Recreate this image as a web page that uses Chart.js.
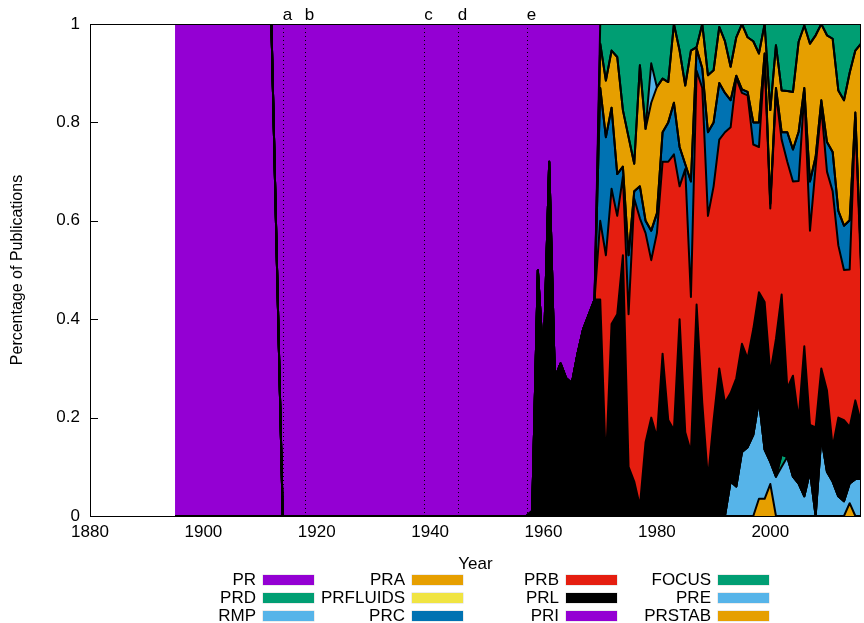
<!DOCTYPE html>
<html lang="en">
<head>
<meta charset="UTF-8">
<title>Percentage of Publications by Journal</title>
<script src="https://cdn.jsdelivr.net/npm/chart.js@4.4.0/dist/chart.umd.min.js"></script>
<style>
    body { margin: 0; background: #fff; }
    #wrap { position: relative; width: 864px; height: 623px; font-family: "Liberation Sans", Arial, sans-serif; }
    #chart { display: block; }
    .key-label { position: absolute; width: 120px; text-align: right; font-size: 17px; line-height: 18px; color: #000; }
    .key-box { position: absolute; width: 51px; height: 10px; box-shadow: 0 0 0 0.5px rgba(0,0,0,0.15); }
</style>
</head>
<body>
<div id="wrap">
    <canvas id="chart" width="864" height="623"></canvas>
    <div id="key"></div>
</div>
<script>
    // axis ticks and the marked years
    const xTicks = [1880, 1900, 1920, 1940, 1960, 1980, 2000];
    const yTicks = [0, 0.2, 0.4, 0.6, 0.8, 1];
    const eventYears = [1914, 1918, 1939, 1945, 1957];
    const eventLabels = ['a', 'b', 'c', 'd', 'e'];

    const firstYear = 1895, lastYear = 2016;

    // Share of each journal per year, listed from the given first year on
    const priStart = 1895;
    const priShare = [1, 1, 1, 1, 1, 1, 1, 1, 1, 1, 1, 1, 1, 1, 1, 1, 1, 1, 0.5];

    const prStart = 1913;
    const prShare = [0.5,
        1, 1, 1, 1, 1, 1, 1, 1, 1, 1, 1,
        1, 1, 1, 1, 1, 1, 1, 1, 1, 1, 1,
        1, 1, 1, 1, 1, 1, 1, 1, 1, 1, 1,
        1, 1, 1, 1, 1, 1, 1, 1, 1, 1, 1,
        0.99, 0.50, 0.69, 0.28, 0.72, 0.69, 0.72, 0.73, 0.67, 0.62, 0.59, 0.56];

    const prlStart = 1958;
    const prlShare = [0.01, 0.50, 0.31, 0.72, 0.28, 0.31, 0.28, 0.27, 0.33, 0.38, 0.41, 0.44,
        0.44, 0.105, 0.39, 0.41, 0.53, 0.10, 0.07, 0.02, 0.15, 0.20,
        0.16, 0.33, 0.195, 0.175, 0.40, 0.17, 0.13, 0.43, 0.23, 0.075,
        0.195, 0.30, 0.23, 0.18, 0.22, 0.22, 0.18, 0.215, 0.22, 0.30,
        0.18, 0.28, 0.325, 0.14, 0.205, 0.13, 0.305, 0.095, 0.18, 0.14,
        0.165, 0.07, 0.16, 0.165, 0.115, 0.16, 0.115];

    const prbStart = 1970;
    const prbShare = [0.16, 0.425, 0.275, 0.20, 0.16, 0.31, 0.575, 0.585, 0.425, 0.32,
        0.415, 0.39, 0.525, 0.56, 0.27, 0.535, 0.315, 0.475, 0.64, 0.535,
        0.475, 0.465, 0.55, 0.54, 0.61, 0.51, 0.535, 0.375, 0.295, 0.495,
        0.335, 0.50, 0.315, 0.46, 0.395, 0.485, 0.515, 0.395, 0.53, 0.53,
        0.445, 0.52, 0.35, 0.305, 0.32, 0.575, 0.31];

    const prcStart = 1970;
    const prcShare = [0.27, 0.24, 0.165, 0.085, 0.02, 0.12, 0.015, 0.065, 0.025, 0.06,
        0.04, 0.06, 0.08, 0.105, 0.08, 0.01, 0.235, 0.045, 0.04, 0.17,
        0.13, 0.115, 0.08, 0.055, 0.005, 0.007, 0.007, 0.045, 0.05, 0.01,
        0.01, 0.01, 0.015, 0.06, 0.065, 0.10, 0.01, 0.10, 0.02, 0.015,
        0.06, 0.08, 0.07, 0.09, 0.10, 0.01, 0.02];

    const praStart = 1970;
    const praShare = [0.09, 0.115, 0.116, 0.238, 0.115, 0.24, 0.056, 0.246, 0.187, 0.26,
        0.257, 0.109, 0.082, 0.16, 0.196, 0.16, 0.266, 0.003, 0.09, 0.116,
        0.106, 0.114, 0.105, 0.068, 0.078, 0.133, 0.111, 0.165, 0.14, 0.06,
        0.19, 0.087, 0.085, 0.084, 0.117, 0.183, 0.127, 0.28, 0.247, 0.155,
        0.217, 0.23, 0.245, 0.255, 0.30, 0.126, 0.44];

    const prdStart = 1970;
    const prdShare = [0.04, 0.115, 0.054, 0.067, 0.175, 0.23, 0.284, 0.084, 0.213, 0.08,
        0.128, 0.111, 0.118, 0.0, 0.054, 0.125, 0.054, 0.047, 0.0, 0.104,
        0.094, 0.006, 0.035, 0.087, 0.027, 0.0, 0.027, 0.035, 0.06, 0.0,
        0.175, 0.043, 0.135, 0.136, 0.138, 0.037, 0.003, 0.04, 0.023, 0.0,
        0.023, 0.03, 0.135, 0.155, 0.10, 0.054, 0.04];

    const rmpStart = 1978;
    const rmpShare = [0, 0.08, 0];

    const prfluidsStart = 2016;
    const prfluidsShare = [0];

    const preStart = 1992;
    const preShare = [0, 0.07, 0.06, 0.13, 0.14, 0.165, 0.20, 0.10,
        0.045, 0.08, 0.10, 0.12, 0.08, 0.066, 0.04, 0.09, 0.0, 0.16,
        0.09, 0.07, 0.04, 0.03, 0.04, 0.075, 0.075];

    const focusStart = 2001;
    const focusShare = [0, 0.025, 0];

    const prstabStart = 1997;
    const prstabShare = [0, 0.035, 0.035, 0.065, 0, 0, 0, 0, 0, 0, 0, 0, 0, 0, 0, 0, 0, 0.026, 0, 0];

    // legend order (as plotted) and colours
    const journals = ['PR', 'PRD', 'RMP', 'PRA', 'PRFLUIDS', 'PRC', 'PRB', 'PRL', 'PRI', 'FOCUS', 'PRE', 'PRSTAB'];
    const colours = ['#9400d3', '#009e73', '#56b4e9', '#e69f00', '#f0e442', '#0072b2',
                     '#e51e10', '#000000', '#9400d3', '#009e73', '#56b4e9', '#e69f00'];

    const shares = {
        PR: [prStart, prShare], PRD: [prdStart, prdShare], RMP: [rmpStart, rmpShare],
        PRA: [praStart, praShare], PRFLUIDS: [prfluidsStart, prfluidsShare], PRC: [prcStart, prcShare],
        PRB: [prbStart, prbShare], PRL: [prlStart, prlShare], PRI: [priStart, priShare],
        FOCUS: [focusStart, focusShare], PRE: [preStart, preShare], PRSTAB: [prstabStart, prstabShare]
    };

    const years = [];
    for (let y = firstYear; y <= lastYear; y++) years.push(y);

    // bottom of the stack first
    const stackOrder = journals.slice().reverse();
    const datasets = stackOrder.map((name, i) => {
        const [start, vals] = shares[name];
        return {
            label: name,
            data: years.map(y => (y >= start && y - start < vals.length) ? vals[y - start] : 0),
            backgroundColor: colours[journals.indexOf(name)],
            borderColor: '#000',
            borderWidth: 2,
            borderJoinStyle: 'round',
            pointRadius: 0,
            pointHitRadius: 0,
            tension: 0,
            fill: i === 0 ? 'origin' : '-1'
        };
    });

    const fontFamily = '"Liberation Sans", Arial, sans-serif';

    const framePlugin = {
        id: 'frame',
        beforeDatasetsDraw(chart) {
            const { ctx, chartArea: a, scales: { y } } = chart;
            ctx.save();
            ctx.strokeStyle = '#000';
            ctx.lineWidth = 1;
            yTicks.forEach(v => {
                const py = Math.round(y.getPixelForValue(v)) + 0.5;
                ctx.beginPath();
                ctx.moveTo(a.left, py);
                ctx.lineTo(a.left + 8, py);
                ctx.stroke();
            });
            ctx.restore();
        },
        afterDatasetsDraw(chart) {
            const { ctx, chartArea: a, scales: { x } } = chart;
            ctx.save();
            // marked years
            ctx.strokeStyle = '#000';
            ctx.lineWidth = 1;
            ctx.setLineDash([1, 3]);
            ctx.fillStyle = '#000';
            ctx.font = '17px ' + fontFamily;
            ctx.textAlign = 'center';
            ctx.textBaseline = 'alphabetic';
            eventYears.forEach((yr, i) => {
                const px = Math.round(x.getPixelForValue(yr)) + 0.5;
                ctx.beginPath();
                ctx.moveTo(px, a.top);
                ctx.lineTo(px, a.bottom);
                ctx.stroke();
                ctx.fillText(eventLabels[i], px + 4, 20);
            });
            // border
            ctx.setLineDash([]);
            ctx.strokeRect(Math.round(a.left) + 0.5, Math.round(a.top) + 0.5,
                Math.round(a.right - a.left) - 1, Math.round(a.bottom - a.top));
            ctx.restore();
        }
    };

    new Chart(document.getElementById('chart'), {
        type: 'line',
        data: { labels: years, datasets: datasets },
        options: {
            responsive: false,
            devicePixelRatio: 1,
            animation: false,
            events: [],
            layout: { padding: { left: 0, right: 3, top: 24, bottom: 48 } },
            plugins: {
                legend: { display: false },
                tooltip: { enabled: false },
                filler: { drawTime: 'beforeDatasetsDraw' }
            },
            scales: {
                x: {
                    type: 'linear',
                    min: 1880,
                    max: 2016,
                    grid: { display: false, drawTicks: false },
                    border: { display: false },
                    afterBuildTicks: s => { s.ticks = xTicks.map(v => ({ value: v })); },
                    afterFit: s => { s.height = 59; },
                    ticks: {
                        padding: 6,
                        color: '#000',
                        font: { family: fontFamily, size: 17 },
                        maxRotation: 0,
                        callback: v => String(v)
                    },
                    title: {
                        display: true,
                        text: 'Year',
                        color: '#000',
                        padding: { top: 0, bottom: 0 },
                        font: { family: fontFamily, size: 17 }
                    }
                },
                y: {
                    stacked: true,
                    min: 0,
                    max: 1,
                    grid: { display: false, drawTicks: false },
                    border: { display: false },
                    afterBuildTicks: s => { s.ticks = yTicks.map(v => ({ value: v })); },
                    afterFit: s => { s.width = 90; },
                    ticks: {
                        padding: 10,
                        color: '#000',
                        font: { family: fontFamily, size: 17 },
                        callback: v => String(v)
                    },
                    title: {
                        display: true,
                        text: 'Percentage of Publications',
                        color: '#000',
                        padding: { top: 8, bottom: 0 },
                        font: { family: fontFamily, size: 16 }
                    }
                }
            }
        },
        plugins: [framePlugin]
    });

    // key: three rows per column, text right-aligned before the sample
    const keyTextRight = [256, 405, 559, 711];
    const keyRowY = [580, 598, 616];
    const key = document.getElementById('key');
    journals.forEach((name, i) => {
        const col = Math.floor(i / 3), row = i % 3;
        const label = document.createElement('div');
        label.className = 'key-label';
        label.textContent = name;
        label.style.left = (keyTextRight[col] - 120) + 'px';
        label.style.top = (keyRowY[row] - 9) + 'px';
        key.appendChild(label);
        const box = document.createElement('div');
        box.className = 'key-box';
        box.style.background = colours[i];
        box.style.left = (keyTextRight[col] + 7) + 'px';
        box.style.top = (keyRowY[row] - 5) + 'px';
        key.appendChild(box);
    });
</script>
</body>
</html>
